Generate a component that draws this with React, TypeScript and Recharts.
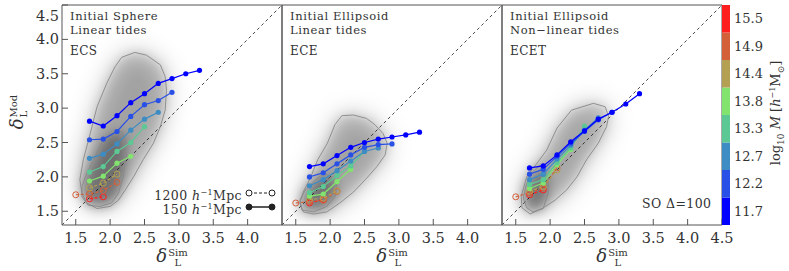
import React from "react";
import { ComposedChart, Scatter, XAxis, YAxis, ReferenceLine, BarChart, Bar } from "recharts";

const FONT = '"DejaVu Serif", serif';
const TXT = "#333";
const AX = "#555";
const W = 789;
const H = 271;
const PT = 5; // plot top
const PW = 220;
const PH = 220;
const DOM: [number, number] = [1.3, 4.5];

// mass bins, low to high
const massBins = ["11.7", "12.2", "12.7", "13.3", "13.8", "14.4", "14.9", "15.5"];
const binColors = ["#0000ff", "#2850e6", "#3d8cc4", "#5cc893", "#82e46e", "#b4a052", "#d4603a", "#ff1e1e"];
// bins from the 1200 Mpc box are drawn open + dashed
const openBin = [false, false, false, false, false, true, true, true];

// delta_L^Sim sampling for each mass bin
const binX = [
  [1.7, 1.9, 2.1, 2.3, 2.5, 2.7, 2.9, 3.1, 3.3],
  [1.7, 1.9, 2.1, 2.3, 2.5, 2.7, 2.9],
  [1.7, 1.9, 2.1, 2.3, 2.5, 2.7],
  [1.7, 1.9, 2.1, 2.3, 2.5],
  [1.7, 1.9, 2.1, 2.3],
  [1.7, 1.9, 2.1],
  [1.5, 1.7, 1.9, 2.1],
  [1.7, 1.9],
];

// delta_L^Mod per panel
const ecsMod = [
  [2.81, 2.74, 2.89, 3.08, 3.21, 3.36, 3.43, 3.5, 3.55],
  [2.54, 2.55, 2.66, 2.88, 3.05, 3.11, 3.23],
  [2.27, 2.33, 2.48, 2.68, 2.84, 2.94],
  [2.07, 2.15, 2.37, 2.5, 2.73],
  [1.94, 2.01, 2.2, 2.3],
  [1.84, 1.91, 2.04],
  [1.74, 1.75, 1.8, 1.92],
  [1.68, 1.71],
];
const eceMod = [
  [2.15, 2.19, 2.31, 2.43, 2.5, 2.55, 2.58, 2.61, 2.65],
  [2.0, 2.06, 2.19, 2.32, 2.43, 2.47, 2.48],
  [1.87, 1.96, 2.09, 2.23, 2.37, 2.42],
  [1.77, 1.86, 2.02, 2.16, 2.37],
  [1.72, 1.75, 1.93, 2.11],
  [1.67, 1.69, 1.8],
  [1.62, 1.64, 1.66, 1.79],
  [1.62, 1.67],
];
const ecetMod = [
  [2.13, 2.16, 2.32, 2.51, 2.67, 2.84, 2.94, 3.06, 3.21],
  [2.04, 2.11, 2.3, 2.49, 2.66, 2.83, 2.94],
  [1.96, 2.04, 2.26, 2.46, 2.68, 2.86],
  [1.89, 1.96, 2.21, 2.42, 2.74],
  [1.83, 1.91, 2.18, 2.4],
  [1.79, 1.86, 2.1],
  [1.71, 1.77, 1.84, 2.13],
  [1.74, 1.81],
];

type Pt = [number, number];
// density contours (outer / inner)
const ecsOuter: Pt[] = [
  [2.17, 3.74], [2.36, 3.81], [2.53, 3.77], [2.73, 3.63], [2.8, 3.46], [2.82, 3.26], [2.8, 2.97],
  [2.73, 2.73], [2.63, 2.49], [2.48, 2.25], [2.34, 2.0], [2.22, 1.81], [2.12, 1.66], [2.0, 1.57],
  [1.81, 1.54], [1.66, 1.62], [1.59, 1.76], [1.56, 1.96], [1.61, 2.25], [1.71, 2.63], [1.81, 3.02],
  [1.95, 3.36], [2.07, 3.6],
];
const ecsInner: Pt[] = [
  [2.02, 2.63], [2.17, 2.66], [2.22, 2.54], [2.23, 2.29], [2.19, 2.0], [2.12, 1.76], [2.02, 1.62],
  [1.85, 1.57], [1.68, 1.59], [1.59, 1.71], [1.59, 1.86], [1.66, 2.05], [1.78, 2.29], [1.9, 2.54],
];
const eceOuter: Pt[] = [
  [2.17, 2.89], [2.34, 2.9], [2.53, 2.85], [2.65, 2.76], [2.77, 2.63], [2.83, 2.49], [2.8, 2.32],
  [2.68, 2.15], [2.53, 1.98], [2.34, 1.78], [2.14, 1.62], [1.95, 1.49], [1.76, 1.46], [1.61, 1.49],
  [1.56, 1.62], [1.61, 1.78], [1.71, 1.98], [1.82, 2.25], [1.96, 2.49], [2.07, 2.76],
];
const eceInner: Pt[] = [
  [1.93, 2.05], [2.1, 1.91], [2.07, 1.71], [1.95, 1.57], [1.76, 1.49], [1.59, 1.52], [1.56, 1.66],
  [1.64, 1.81], [1.76, 1.93], [1.88, 2.03],
];
const ecetOuter: Pt[] = [
  [2.31, 2.97], [2.63, 3.07], [2.8, 3.02], [2.85, 2.88], [2.82, 2.73], [2.7, 2.49], [2.53, 2.25],
  [2.39, 2.0], [2.24, 1.81], [2.07, 1.66], [1.9, 1.55], [1.71, 1.46], [1.59, 1.55], [1.58, 1.72],
  [1.66, 2.0], [1.81, 2.2], [1.95, 2.39], [2.1, 2.71],
];
const ecetInner: Pt[] = [
  [1.85, 2.17], [1.97, 2.0], [1.97, 1.76], [1.9, 1.54], [1.75, 1.49], [1.66, 1.55], [1.61, 1.69],
  [1.65, 1.88], [1.74, 2.07],
];

const majorTicks = [1.5, 2.0, 2.5, 3.0, 3.5, 4.0, 4.5];
const xTicksLeft = [1.5, 2.0, 2.5, 3.0, 3.5, 4.0];
const minorTicks = Array.from({ length: 33 }, (_, i) => Math.round((1.3 + i * 0.1) * 10) / 10);
const cbTicks = [0.5, 1.5, 2.5, 3.5, 4.5, 5.5, 6.5, 7.5];

const toPts = (poly: Pt[]) => {
  const pts = poly.map(([x, y]) => ({ x, y }));
  return [...pts, pts[0]];
};

const Empty = () => <g />;

const polyFill = (opacity: number, filter: string) => (p: any) => {
  const pts = p.points || [];
  const d = pts.map((pt: any, i: number) => `${i ? "L" : "M"}${pt.x},${pt.y}`).join("") + "Z";
  return <path d={d} fill="#000" fillOpacity={opacity} stroke="none" filter={filter} />;
};

const YTick = (props: any) => {
  const v = props.payload.value;
  return (
    <text x={props.x} y={props.y + (v === 4.5 ? 7 : 0)} textAnchor="end" dominantBaseline="central"
      fill={TXT} fontSize={14.5} fontFamily={FONT}>
      {v.toFixed(1)}
    </text>
  );
};

function Panel({ left, mods, outer, inner, yLabels, xTicks }: {
  left: number; mods: number[][]; outer: Pt[]; inner: Pt[]; yLabels: boolean; xTicks: number[];
}) {
  const right = W - left - PW;
  const common = { type: "number" as const, domain: DOM, allowDataOverflow: true, stroke: AX };
  const order = [7, 6, 5, 4, 3, 2, 1, 0];
  // each side carries two 1px axes (major + minor ticks), so pull margins in by 2
  return (
    <div style={{ position: "absolute", left: 0, top: 0 }}>
      <ComposedChart width={W} height={H}
        margin={{ top: PT - 2, right: right - 2, bottom: H - PT - PH - 2, left: left - 2 }}>
        <XAxis xAxisId="b" dataKey="x" {...common} ticks={xTicks} height={1} tickSize={-6} tickMargin={14}
          tickFormatter={(v: number) => v.toFixed(1)} tick={{ fill: TXT, fontSize: 14.5, fontFamily: FONT }} />
        <XAxis xAxisId="bm" {...common} ticks={minorTicks} height={1} tickSize={-4} tick={false} axisLine={false} />
        <XAxis xAxisId="t" orientation="top" {...common} ticks={majorTicks} height={1} tickSize={-6} tick={false} />
        <XAxis xAxisId="tm" orientation="top" {...common} ticks={minorTicks} height={1} tickSize={-4} tick={false} axisLine={false} />
        <YAxis yAxisId="l" dataKey="y" {...common} ticks={majorTicks} width={1} tickSize={-6} tickMargin={9}
          tick={yLabels ? <YTick /> : false} />
        <YAxis yAxisId="lm" {...common} ticks={minorTicks} width={1} tickSize={-4} tick={false} axisLine={false} />
        <YAxis yAxisId="r" orientation="right" {...common} ticks={majorTicks} width={1} tickSize={-6} tick={false} />
        <YAxis yAxisId="rm" orientation="right" {...common} ticks={minorTicks} width={1} tickSize={-4} tick={false} axisLine={false} />

        <Scatter xAxisId="b" yAxisId="l" dataKey="y" data={toPts(outer)} isAnimationActive={false}
          line={polyFill(0.28, "url(#blurL)")} shape={Empty} />
        <Scatter xAxisId="b" yAxisId="l" dataKey="y" data={toPts(outer)} isAnimationActive={false}
          line={polyFill(0.12, "url(#blurM)")} shape={Empty} />
        <Scatter xAxisId="b" yAxisId="l" dataKey="y" data={toPts(inner)} isAnimationActive={false}
          line={polyFill(0.32, "url(#blurS)")} shape={Empty} />
        <Scatter xAxisId="b" yAxisId="l" dataKey="y" data={toPts(outer)} isAnimationActive={false}
          line={{ stroke: "#888", strokeWidth: 0.9 }} shape={Empty} />
        <Scatter xAxisId="b" yAxisId="l" dataKey="y" data={toPts(inner)} isAnimationActive={false}
          line={{ stroke: "#888", strokeWidth: 0.9 }} shape={Empty} />

        <ReferenceLine xAxisId="b" yAxisId="l" segment={[{ x: DOM[0], y: DOM[0] }, { x: DOM[1], y: DOM[1] }]}
          stroke="#333" strokeWidth={0.9} strokeDasharray="3 3" />

        {order.map((i) => {
          const c = binColors[i];
          const open = openBin[i];
          const data = binX[i].map((x, j) => ({ x, y: mods[i][j] }));
          return (
            <Scatter key={i} xAxisId="b" yAxisId="l" dataKey="y" data={data} fill={c} isAnimationActive={false}
              line={{ stroke: c, strokeWidth: 1.2, strokeDasharray: open ? "3 2" : undefined }} lineType="joint"
              shape={(p: any) => open
                ? <circle cx={p.cx} cy={p.cy} r={3} fill="none" stroke={c} strokeWidth={1} />
                : <circle cx={p.cx} cy={p.cy} r={2.6} fill={c} />} />
          );
        })}
      </ComposedChart>
    </div>
  );
}

function Delta({ sup }: { sup: string }) {
  return (
    <span style={{ display: "inline-flex", alignItems: "flex-end", fontFamily: FONT, color: TXT }}>
      <span style={{ fontStyle: "italic", fontSize: 18, lineHeight: "18px" }}>δ</span>
      <span style={{ display: "inline-flex", flexDirection: "column", fontSize: 10, lineHeight: "10px", marginLeft: 1 }}>
        <span>{sup}</span>
        <span style={{ marginBottom: -3 }}>L</span>
      </span>
    </span>
  );
}

const noteStyle: React.CSSProperties = {
  position: "absolute", fontFamily: FONT, fontSize: 12, lineHeight: "12px", letterSpacing: 0.4, color: TXT,
  whiteSpace: "nowrap",
};

function PanelText({ left, lines, tag }: { left: number; lines: string[]; tag: string }) {
  return (
    <>
      <div style={{ ...noteStyle, fontSize: 11.5, lineHeight: "13.5px", letterSpacing: 0.6, left: left + 8, top: 10 }}>
        {lines.map((l) => <div key={l}>{l}</div>)}
      </div>
      <div style={{ ...noteStyle, left: left + 8, top: 45 }}>{tag}</div>
    </>
  );
}

function Legend() {
  const row = (label: string, y: number, open: boolean) => (
    <div style={{ position: "absolute", left: 150, top: y - 7, width: 130, height: 14 }}>
      <div style={{ ...noteStyle, right: 38, top: 1, textAlign: "right", fontSize: 12.5 }}>
        {label} <i>h</i><sup style={{ fontSize: 8, verticalAlign: 5 }}>−1</sup>Mpc
      </div>
      <svg width={32} height={14} style={{ position: "absolute", left: 95, top: 0 }}>
        <line x1={4} y1={7} x2={27} y2={7} stroke="#222" strokeWidth={open ? 1 : 1.5} strokeDasharray={open ? "3 2" : undefined} />
        <circle cx={4} cy={7} r={3} fill={open ? "#fff" : "#222"} stroke="#222" strokeWidth={1} />
        <circle cx={27} cy={7} r={3} fill={open ? "#fff" : "#222"} stroke="#222" strokeWidth={1} />
      </svg>
    </div>
  );
  return (
    <>
      {row("1200", 193, true)}
      {row("150", 207, false)}
    </>
  );
}

function ColorBar() {
  const cbData = [Object.fromEntries([["name", "cb"], ...massBins.map((_, i) => [`b${i}`, 1])])];
  return (
    <div style={{ position: "absolute", left: 722, top: 0 }}>
      <BarChart width={67} height={H} data={cbData} margin={{ top: PT, bottom: H - PT - PH, left: 0, right: 58 }}
        barCategoryGap={0}>
        <XAxis dataKey="name" hide />
        <YAxis orientation="right" type="number" domain={[0, 8]} ticks={cbTicks} width={1} axisLine={false}
          tickLine={false} tickSize={0} tickMargin={4}
          tickFormatter={(v: number) => massBins[Math.floor(v)]}
          tick={{ fill: TXT, fontSize: 13, fontFamily: FONT }} />
        {massBins.map((m, i) => (
          <Bar key={m} dataKey={`b${i}`} stackId="c" fill={binColors[i]} isAnimationActive={false} />
        ))}
      </BarChart>
    </div>
  );
}

export default function App() {
  const panels = [62, 282, 502];
  return (
    <div style={{ position: "absolute", left: 0, top: 0, width: W, height: H, background: "#fff", overflow: "hidden" }}>
      <svg width={0} height={0} style={{ position: "absolute" }}>
        <defs>
          <filter id="blurL" x="-60%" y="-60%" width="220%" height="220%"><feGaussianBlur stdDeviation="12" /></filter>
          <filter id="blurM" x="-60%" y="-60%" width="220%" height="220%"><feGaussianBlur stdDeviation="5" /></filter>
          <filter id="blurS" x="-60%" y="-60%" width="220%" height="220%"><feGaussianBlur stdDeviation="6" /></filter>
        </defs>
      </svg>
      <Panel left={panels[0]} mods={ecsMod} outer={ecsOuter} inner={ecsInner} yLabels xTicks={xTicksLeft} />
      <Panel left={panels[1]} mods={eceMod} outer={eceOuter} inner={eceInner} yLabels={false} xTicks={xTicksLeft} />
      <Panel left={panels[2]} mods={ecetMod} outer={ecetOuter} inner={ecetInner} yLabels={false} xTicks={majorTicks} />
      <ColorBar />

      <PanelText left={panels[0]} lines={["Initial Sphere", "Linear tides"]} tag="ECS" />
      <PanelText left={panels[1]} lines={["Initial Ellipsoid", "Linear tides"]} tag="ECE" />
      <PanelText left={panels[2]} lines={["Initial Ellipsoid", "Non−linear tides"]} tag="ECET" />
      <div style={{ ...noteStyle, fontSize: 12.5, left: 642, top: 198 }}>SO Δ=100</div>
      <Legend />

      {panels.map((p) => (
        <div key={p} style={{ position: "absolute", left: p + PW / 2 - 30, width: 60, top: 247, textAlign: "center" }}>
          <Delta sup="Sim" />
        </div>
      ))}
      <div style={{ position: "absolute", left: 17, top: 112, transform: "translate(-50%, -50%) rotate(-90deg)", whiteSpace: "nowrap" }}>
        <Delta sup="Mod" />
      </div>
      <div style={{ ...noteStyle, fontSize: 13, left: 777, top: 113, lineHeight: "14px", letterSpacing: 0, transform: "translate(-50%, -50%) rotate(-90deg)" }}>
        log<sub style={{ fontSize: 9 }}>10</sub> <i>M</i> [<i>h</i><sup style={{ fontSize: 8 }}>−1</sup>M<sub style={{ fontSize: 9 }}>⊙</sub>]
      </div>
    </div>
  );
}
